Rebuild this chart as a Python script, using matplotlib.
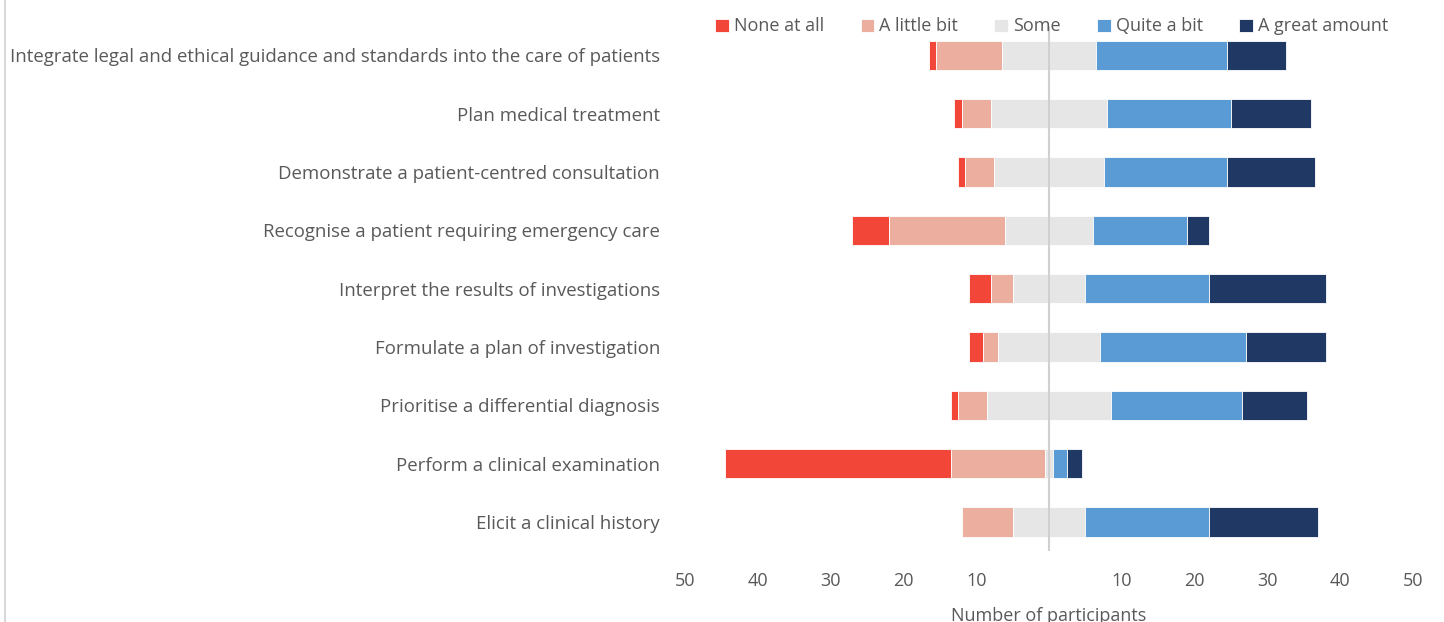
import matplotlib.pyplot as plt
import numpy as np
from matplotlib.lines import Line2D

# rows listed bottom to top
skills = [
    "Elicit a clinical history",
    "Perform a clinical examination",
    "Prioritise a differential diagnosis",
    "Formulate a plan of investigation",
    "Interpret the results of investigations",
    "Recognise a patient requiring emergency care",
    "Demonstrate a patient-centred consultation",
    "Plan medical treatment",
    "Integrate legal and ethical guidance and standards into the care of patients",
]
none_at_all = [0, 31, 1, 2, 3, 5, 1, 1, 1]
a_little_bit = [7, 13, 4, 2, 3, 16, 4, 4, 9]
some = [10, 1, 17, 14, 10, 12, 15, 16, 13]
quite_a_bit = [17, 2, 18, 20, 17, 13, 17, 17, 18]
a_great_amount = [15, 2, 9, 11, 16, 3, 12, 11, 8]

levels = ["None at all", "A little bit", "Some", "Quite a bit", "A great amount"]
colors = ["#F24638", "#ECAE9F", "#E6E6E6", "#5A9BD5", "#1F3864"]
ticks = [-50, -40, -30, -20, -10, 10, 20, 30, 40, 50]


def main():
    plt.rcParams['font.family'] = ['Open Sans', 'DejaVu Sans']
    txt = "#595959"

    fig = plt.figure(figsize=(14.44, 6.22), dpi=100)
    ax = fig.add_axes([0.4744, 0.114, 0.5041, 0.844])

    data = np.array([none_at_all, a_little_bit, some, quite_a_bit, a_great_amount], dtype=float)
    y = np.arange(len(skills))
    start = -(data[0] + data[1] + data[2] / 2)
    left = start.copy()
    for vals, lab, col in zip(data, levels, colors):
        ax.barh(y, vals, left=left, height=0.5, color=col, label=lab,
                edgecolor="white", linewidth=0.6, zorder=2)
        left = left + vals

    ax.axvline(0, color="#D0D0D0", linewidth=1.5, zorder=3)

    ax.set_xlim(-50, 50)
    ax.set_ylim(-0.5, len(skills) - 0.5)
    ax.set_xticks(ticks)
    ax.set_xticklabels([str(abs(t)) for t in ticks], color=txt, fontsize=13)
    ax.set_yticks(y)
    ax.set_yticklabels(skills, color=txt, fontsize=13.4)
    ax.tick_params(length=0, pad=18, axis="y")
    ax.tick_params(length=0, pad=15, axis="x")
    for s in ax.spines.values():
        s.set_visible(False)
    ax.set_xlabel("Number of participants", color=txt, fontsize=13, labelpad=12)

    fig.legend(loc="upper center", bbox_to_anchor=(0.7285, 0.998), ncol=5,
               frameon=False, fontsize=13, handlelength=0.75, handleheight=0.75,
               handletextpad=0.3, columnspacing=2.0, labelcolor=txt)

    fig.add_artist(Line2D([0.0035, 0.0035], [0, 1], color="#D9D9D9", linewidth=1.5,
                          transform=fig.transFigure))

    fig.savefig("out.png", dpi=100)


if __name__ == '__main__':
    main()
